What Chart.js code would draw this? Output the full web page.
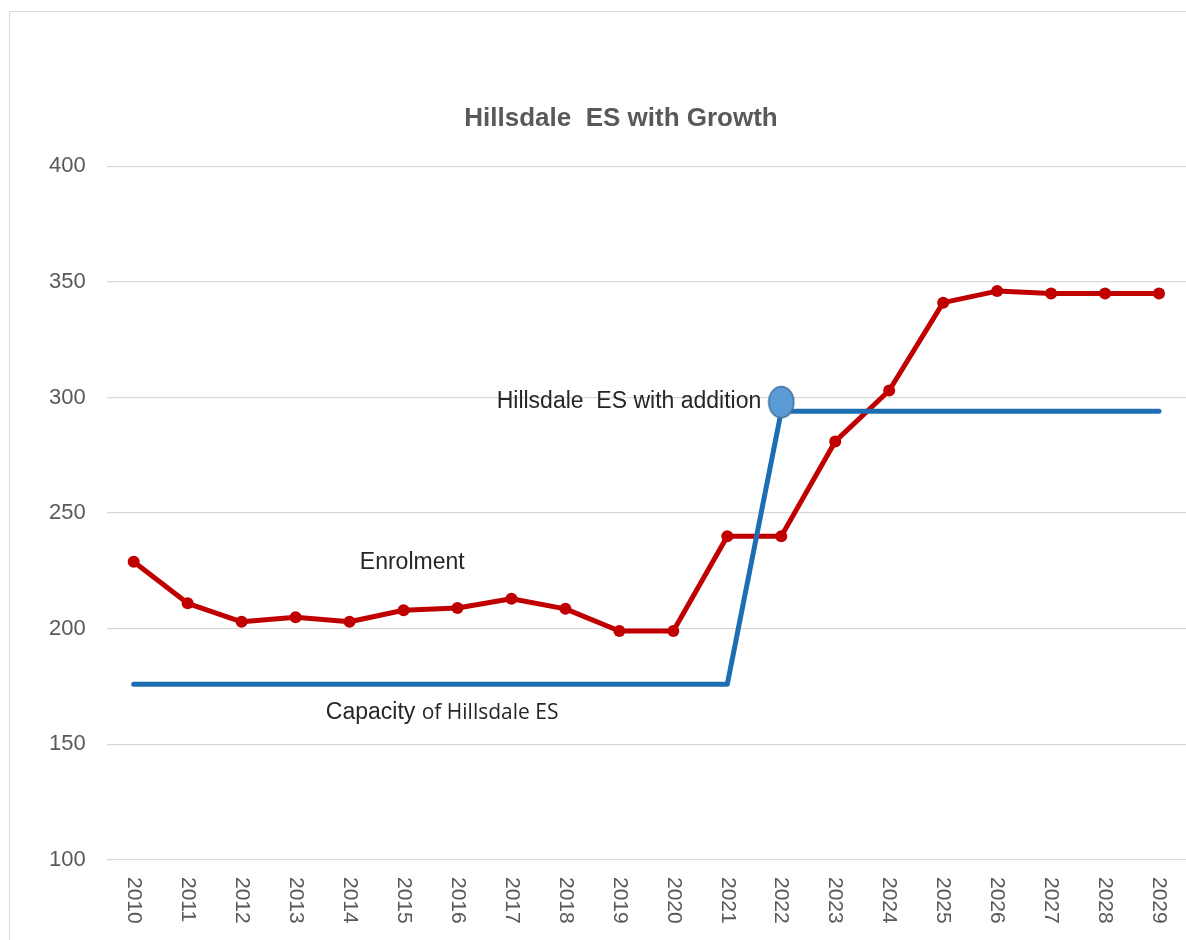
<!DOCTYPE html>
<html>
<head>
<meta charset="utf-8">
<script src="https://cdn.jsdelivr.net/npm/chart.js@4"></script>
<style>
  html, body { margin: 0; padding: 0; background: #fff; overflow: hidden; }
  #wrap { position: relative; width: 1186px; height: 940px; }
</style>
</head>
<body>
<div id="wrap"><canvas id="growth" width="1186" height="940"></canvas></div>
<script>
// 数据
const years = ['2010', '2011', '2012', '2013', '2014', '2015', '2016', '2017', '2018', '2019',
               '2020', '2021', '2022', '2023', '2024', '2025', '2026', '2027', '2028', '2029'];
const enrolment = [229, 211, 203, 205, 203, 208, 209, 213, 208.6, 199,
                   199, 240, 240, 281, 303, 341, 346, 345, 345, 345];
const capacity = [176, 176, 176, 176, 176, 176, 176, 176, 176, 176,
                  176, 176, 294, 294, 294, 294, 294, 294, 294, 294];
const additionMark = [null, null, null, null, null, null, null, null, null, null,
                      null, null, 298, null, null, null, null, null, null, null];
const yTicks = [100, 150, 200, 250, 300, 350, 400];

// 图上的文字标注（类目序号 + 数值）
const notes = [
  { text: 'Hillsdale  ES with addition', at: 11.63, value: 298, align: 'right' },
  { text: 'Enrolment', at: 4.19, value: 228.5, align: 'left' },
  { text: 'Capacity ', extra: 'of Hillsdale ES', at: 3.56, value: 163.5, align: 'left' }
];

const FONT = '"Liberation Sans", Arial, sans-serif';

// 椭圆标记
function makeEllipse(w, h) {
  const c = document.createElement('canvas');
  c.width = w; c.height = h;
  const g = c.getContext('2d');
  g.beginPath();
  g.ellipse(w / 2, h / 2, w / 2 - 1.5, h / 2 - 1.5, 0, 0, Math.PI * 2);
  g.fillStyle = '#5b9bd5';
  g.fill();
  g.lineWidth = 1.5;
  g.strokeStyle = '#41719c';
  g.stroke();
  return c;
}

const frame = {
  id: 'frame',
  afterLayout(chart) {
    // 标题略偏右
    if (chart.titleBlock) chart.titleBlock.left += 28;
  },
  beforeDraw(chart) {
    const c = chart.ctx;
    c.save();
    c.strokeStyle = '#d9d9d9';
    c.lineWidth = 1;
    c.beginPath();
    c.moveTo(9.5, chart.height);
    c.lineTo(9.5, 11.5);
    c.lineTo(chart.width, 11.5);
    c.stroke();
    c.restore();
  }
};

// x 轴标签：顺时针竖排
const xLabels = {
  id: 'xLabels',
  afterDraw(chart) {
    const c = chart.ctx;
    const x = chart.scales.x;
    c.save();
    c.font = `21px ${FONT}`;
    c.fillStyle = '#595959';
    c.textAlign = 'left';
    c.textBaseline = 'middle';
    years.forEach((y, i) => {
      c.save();
      c.translate(x.getPixelForValue(i), chart.chartArea.bottom + 17);
      c.rotate(Math.PI / 2);
      c.fillText(y, 0, 0);
      c.restore();
    });
    c.restore();
  }
};

const labels = {
  id: 'notes',
  afterDatasetsDraw(chart) {
    const c = chart.ctx;
    const { x, y } = chart.scales;
    c.save();
    c.textBaseline = 'middle';
    c.fillStyle = '#262626';
    notes.forEach(n => {
      const px = x.getPixelForDecimal((n.at + 0.5) / years.length);
      const py = y.getPixelForValue(n.value);
      c.font = `23px ${FONT}`;
      c.textAlign = n.align;
      c.fillText(n.text, px, py);
      if (n.extra) {
        const w = c.measureText(n.text).width;
        c.font = `21px "Open Sans", sans-serif`;
        c.textAlign = 'left';
        c.fillText(n.extra, px + w, py);
      }
    });
    c.restore();
  }
};

new Chart(document.getElementById('growth'), {
  type: 'line',
  data: {
    labels: years,
    datasets: [
      {
        label: 'Addition',
        data: additionMark,
        showLine: false,
        pointStyle: makeEllipse(28, 34),
        pointRadius: 14,
        order: 0
      },
      {
        label: 'Capacity',
        data: capacity,
        borderColor: '#1e6eb4',
        borderWidth: 5,
        borderCapStyle: 'round',
        borderJoinStyle: 'round',
        pointRadius: 0,
        tension: 0,
        order: 1
      },
      {
        label: 'Enrolment',
        data: enrolment,
        borderColor: '#c00000',
        backgroundColor: '#c00000',
        borderWidth: 5,
        borderJoinStyle: 'round',
        pointRadius: 6,
        pointBorderWidth: 0,
        tension: 0,
        order: 2
      }
    ]
  },
  options: {
    responsive: false,
    animation: false,
    layout: { autoPadding: false, padding: { left: 28, right: 0, top: 0, bottom: 80 } },
    plugins: {
      legend: { display: false },
      tooltip: { enabled: false },
      title: {
        display: true,
        text: 'Hillsdale  ES with Growth',
        color: '#595959',
        font: { family: FONT, size: 26, weight: 'bold' },
        padding: { top: 103, bottom: 32 }
      }
    },
    scales: {
      x: {
        offset: true,
        grid: { display: false, drawTicks: false },
        border: { display: false },
        ticks: { display: false }
      },
      y: {
        min: 100,
        max: 400,
        afterBuildTicks(scale) {
          scale.ticks = yTicks.map(v => ({ value: v }));
        },
        grid: { color: '#d9d9d9', lineWidth: 1.2, drawTicks: false },
        border: { display: false },
        ticks: {
          color: '#595959',
          padding: 21,
          font: { family: FONT, size: 22 }
        }
      }
    }
  },
  plugins: [frame, xLabels, labels]
});
</script>
</body>
</html>
